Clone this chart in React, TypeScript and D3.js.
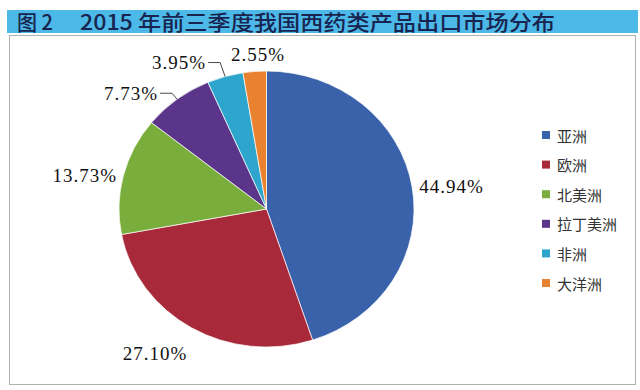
import React from "react";
import * as d3 from "d3";

const categories = ["亚洲", "欧洲", "北美洲", "拉丁美洲", "非洲", "大洋洲"];
const values = [44.94, 27.1, 13.73, 7.73, 3.95, 2.55];
const valueLabels = ["44.94%", "27.10%", "13.73%", "7.73%", "3.95%", "2.55%"];
const colors = ["#3a62aa", "#a8293a", "#79ad3c", "#5b3589", "#2ea5cc", "#e8822e"];
const titleLead = "图 2";
const titleMain = "2015 年前三季度我国西药类产品出口市场分布";

const W = 640;
const H = 390;
const cx = 266.5;
const cy = 209;
const ry = 138;
const rx = 147.5;
const sx = rx / ry;

// label layout: gap from edge, plus nudges; leader labels use an elbow
const labelGap = [6, 20, 6, 0, 0, 6];
const labelNudge: [number, number][] = [[2, 2], [-10, 2], [-2, 3], [0, 0], [0, 0], [6, -3]];
const leaderRise = [0, 0, 0, 6, 14, 0];

export default function App() {
  const pie = d3.pie<number>().sort(null).value((d) => d);
  const arcs = pie(values);
  const arc = d3.arc<d3.PieArcDatum<number>>().innerRadius(0).outerRadius(ry);

  const fontSize = 19;
  const charW = (s: string) =>
    s.split("").reduce((a, c) => a + (c === "." ? 0.25 : c === "%" ? 0.833 : 0.5), 0) * fontSize + (s.length - 1) * 1;

  const legendY = d3.scalePoint<string>().domain(categories).range([135, 283]);

  return (
    <div style={{ position: "absolute", left: 0, top: 0 }}>
      <svg width={W} height={H} style={{ display: "block", background: "#fff" }}>
        <rect x={7} y={10} width={631} height={23} fill="#4cb9e9" />
        <text x={17} y={30} fontSize={21} fontWeight={500} fontFamily="'Noto Sans CJK SC', sans-serif" fill="#18244f" textLength={36} lengthAdjust="spacingAndGlyphs">
          {titleLead}
        </text>
        <text x={80} y={30} fontSize={21} fontWeight={500} fontFamily="'Noto Sans CJK SC', sans-serif" fill="#18244f" textLength={475} lengthAdjust="spacingAndGlyphs">
          {titleMain}
        </text>
        <rect x={9.5} y={35.5} width={626} height={349} fill="#fff" stroke="#b0b0b0" strokeWidth={1} />
        <g transform={`translate(${cx},${cy}) scale(${sx},1)`}>
          {arcs.map((a, i) => (
            <path key={i} d={arc(a) || ""} fill={colors[i]} stroke="#ffffff" strokeWidth={0.7} vectorEffect="non-scaling-stroke" />
          ))}
        </g>
        {arcs.map((a, i) => {
          const mid = (a.startAngle + a.endAngle) / 2;
          const s = Math.sin(mid);
          const c = Math.cos(mid);
          const label = valueLabels[i];
          const w = charW(label);
          if (leaderRise[i] > 0) {
            const ex = cx + rx * s;
            const ey = cy - ry * c;
            const ly = ey - leaderRise[i];
            const elbowX = ex - 5;
            const endX = elbowX - 12;
            return (
              <g key={i}>
                <polyline points={`${ex},${ey} ${elbowX},${ly} ${endX},${ly}`} fill="none" stroke="#333" strokeWidth={0.9} />
                <text x={endX - 2} y={ly} textAnchor="end" dominantBaseline="central" fontSize={fontSize} fontFamily="'Liberation Serif', 'Times New Roman', serif" letterSpacing={1} fill="#111">
                  {label}
                </text>
              </g>
            );
          }
          const px = cx + (rx + labelGap[i]) * s;
          const py = cy - (ry + labelGap[i]) * c;
          const bx = px + s * (w / 2) + labelNudge[i][0];
          const by = py - c * 8 + labelNudge[i][1];
          return (
            <text key={i} x={bx} y={by} textAnchor="middle" dominantBaseline="central" fontSize={fontSize} fontFamily="'Liberation Serif', 'Times New Roman', serif" letterSpacing={1} fill="#111">
              {label}
            </text>
          );
        })}
        {categories.map((cat, i) => {
          const y = legendY(cat) as number;
          return (
            <g key={cat}>
              <rect x={542} y={y - 4} width={8} height={8} fill={colors[i]} />
              <text x={557} y={y} dominantBaseline="central" fontSize={15} fontFamily="'Noto Sans CJK SC', sans-serif" fill="#333">
                {cat}
              </text>
            </g>
          );
        })}
      </svg>
    </div>
  );
}
